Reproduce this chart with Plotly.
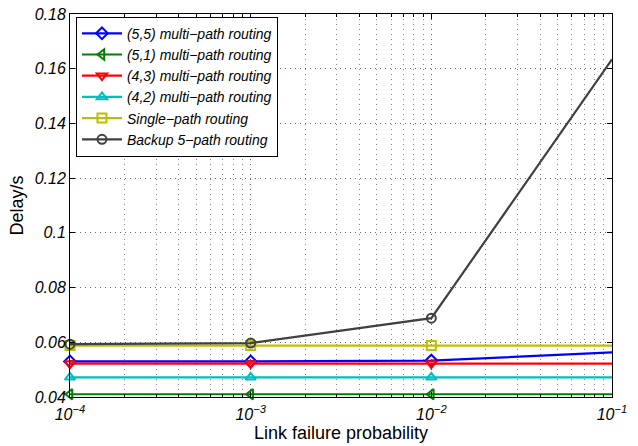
import plotly.graph_objects as go

x_vals = [1e-4, 1e-3, 1e-2, 1e-1]
names = ["(5,5) multi−path routing", "(5,1) multi−path routing", "(4,3) multi−path routing",
         "(4,2) multi−path routing", "Single−path routing", "Backup 5−path routing"]
d55 = [0.0530, 0.0530, 0.0533, 0.0563]
d51 = [0.0410, 0.0410, 0.0410, 0.0410]
d43 = [0.0522, 0.0522, 0.0522, 0.0522]
d42 = [0.0472, 0.0472, 0.0472, 0.0472]
single = [0.0588, 0.0588, 0.0588, 0.0588]
backup = [0.0593, 0.0597, 0.0688, 0.1634]
series = [d55, d51, d43, d42, single, backup]
colors = ["#0000FF", "#008000", "#FF0000", "#00BFBF", "#BFBF00", "#404040"]
symbols = ["diamond-open", "triangle-left-open", "triangle-down-open", "triangle-up-open",
           "square-open", "circle-open"]
xtick_vals = [1e-4, 1e-3, 1e-2, 1e-1]
xtick_text = ["10<sup>−4</sup>", "10<sup>−3</sup>", "10<sup>−2</sup>", "10<sup>−1</sup>"]
ytick_vals = [0.04, 0.06, 0.08, 0.10, 0.12, 0.14, 0.16, 0.18]
ytick_text = ["0.04", "0.06", "0.08", "0.1", "0.12", "0.14", "0.16", "0.18"]

fig = go.Figure()
for n, s, c, m in zip(names, series, colors, symbols):
    fig.add_trace(go.Scatter(x=x_vals, y=s, name=n, mode="lines+markers",
                             line=dict(color=c, width=2.2),
                             marker=dict(symbol=m, size=9, color=c, line=dict(width=2, color=c)),
                             cliponaxis=False))

font = "Liberation Sans, Arial, Helvetica, sans-serif"
fig.update_layout(
    width=638, height=446,
    margin=dict(l=70, r=26, t=14, b=49),
    paper_bgcolor="white", plot_bgcolor="white",
    font=dict(family=font, color="black"),
    showlegend=True,
    legend=dict(x=0.011, y=0.993, xanchor="left", yanchor="top",
                bgcolor="white", bordercolor="black", borderwidth=1,
                font=dict(size=14, style="italic", family=font),
                itemwidth=40, tracegroupgap=0),
    xaxis=dict(type="log", range=[-4, -1], tickvals=xtick_vals, ticktext=xtick_text,
               tickfont=dict(size=16, style="italic"), ticklabelstandoff=3,
               automargin=False,
               showline=True, linecolor="black", linewidth=1, mirror="allticks",
               ticks="inside", ticklen=5, tickcolor="black",
               showgrid=True, gridcolor="#666666", griddash="1px,4px", gridwidth=1,
               minor=dict(dtick="D1", showgrid=True, gridcolor="#888888", griddash="1px,4px",
                          ticks="inside", ticklen=3, tickcolor="black"),
               zeroline=False,
               title=dict(text="Link failure probability", font=dict(size=18), standoff=3)),
    yaxis=dict(range=[0.04, 0.18], tickvals=ytick_vals, ticktext=ytick_text,
               tickfont=dict(size=16, style="italic"),
               automargin=False,
               showline=True, linecolor="black", linewidth=1, mirror="allticks",
               ticks="inside", ticklen=5, tickcolor="black",
               showgrid=True, gridcolor="#666666", griddash="1px,4px", gridwidth=1,
               zeroline=False,
               title=dict(text="Delay/s", font=dict(size=18), standoff=6)),
)
fig.write_html("out.html")
